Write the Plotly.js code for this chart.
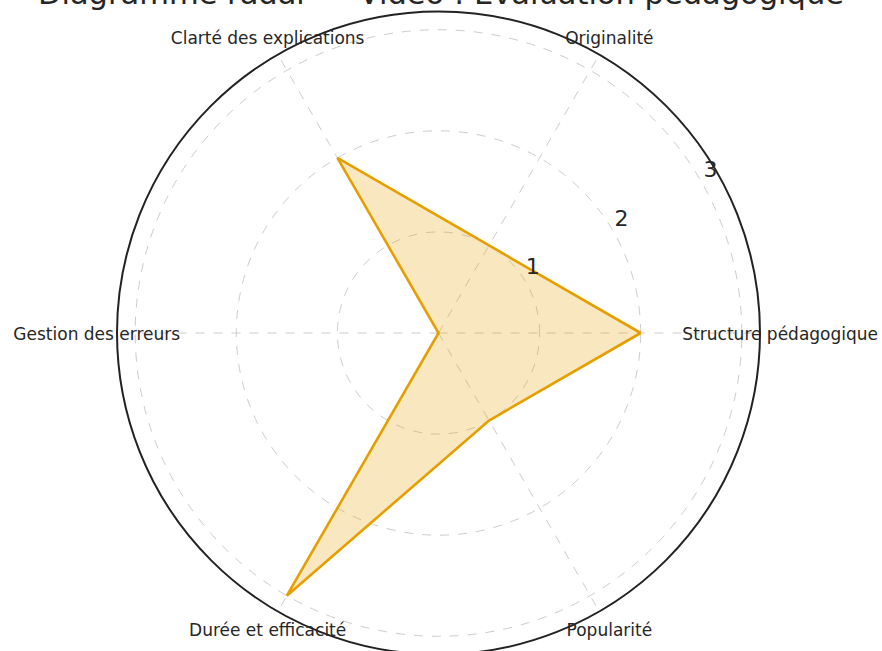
<!DOCTYPE html>
<html>
<head>
<meta charset="utf-8">
<script src="https://cdn.plot.ly/plotly-3.0.1.min.js"></script>
<style>
html, body { margin: 0; padding: 0; overflow: hidden; background: #fff; width: 882px; height: 651px; }
#chart { position: absolute; left: 0; top: -50px; width: 882px; height: 760px; }
</style>
</head>
<body>
<div id="chart"></div>
<script>
// Data
const categories = ["Structure pédagogique", "Originalité", "Clarté des explications", "Gestion des erreurs", "Durée et efficacité", "Popularité"];
const scores = [2, 1, 2, 0, 3, 1];
const radialTicks = [1, 2, 3];
const radialTickText = ["1", "2", "3"];
const chartTitle = "Diagramme radar — Vidéo : Évaluation pédagogique";

const R_MAX = 3.18;
const LABEL_R = 3.38;
const TICKLABEL_SHIFT = 0.225;
const OFFSET = 50;            // div shifted up by this many px
const W = 882, H = 760;
const cx = 438.5, cy = 333 + OFFSET, rad = 321.5;
const pxPerUnit = rad / R_MAX;
const radLab = LABEL_R * pxPerUnit;
const LABEL_DY = 3;

const closedCats = categories.concat([categories[0]]);
const closedScores = scores.concat([scores[0]]);

const traces = [
  {
    type: "scatterpolar",
    subplot: "polar",
    r: closedScores,
    theta: closedCats,
    mode: "lines",
    fill: "toself",
    fillcolor: "rgba(230,159,0,0.25)",
    line: { color: "#E69F00", width: 2.6 },
    hoverinfo: "skip",
    showlegend: false
  },
  {
    type: "scatterpolar",
    subplot: "polar2",
    r: categories.map(() => LABEL_R),
    theta: categories,
    mode: "text",
    text: categories,
    textposition: "middle center",
    textfont: { family: "DejaVu Sans", size: 17, color: "#262626" },
    cliponaxis: false,
    hoverinfo: "skip",
    showlegend: false
  }
];

function dom(r, dy) {
  const c = cy + (dy || 0);
  return {
    x: [(cx - r) / W, (cx + r) / W],
    y: [(H - c - r) / H, (H - c + r) / H]
  };
}

const layout = {
  width: W,
  height: H,
  margin: { l: 0, r: 0, t: 0, b: 0 },
  paper_bgcolor: "#ffffff",
  showlegend: false,
  title: {
    text: chartTitle,
    font: { family: "DejaVu Sans", size: 30.5, color: "#262626" },
    x: 0.5,
    xanchor: "center",
    xref: "container",
    yref: "container",
    y: 1 - (OFFSET + 4) / H,
    yanchor: "bottom"
  },
  polar: {
    domain: dom(rad, 0),
    bgcolor: "#ffffff",
    radialaxis: {
      range: [0, R_MAX],
      tickvals: radialTicks,
      showticklabels: false,
      showline: false,
      ticks: "",
      gridcolor: "#cccccc",
      griddash: "dash",
      gridwidth: 1
    },
    angularaxis: {
      type: "category",
      categoryarray: categories,
      rotation: 0,
      direction: "counterclockwise",
      showticklabels: false,
      ticks: "",
      showline: true,
      linecolor: "#222222",
      linewidth: 2,
      gridcolor: "#cccccc",
      griddash: "dash",
      gridwidth: 1
    }
  },
  polar2: {
    domain: dom(radLab, LABEL_DY),
    bgcolor: "rgba(0,0,0,0)",
    radialaxis: {
      range: [0, LABEL_R],
      tickvals: radialTicks.map(v => v + TICKLABEL_SHIFT),
      ticktext: radialTickText,
      angle: 28.5,
      tickangle: 28.5,
      side: "counterclockwise",
      showgrid: false,
      showline: false,
      ticks: "",
      tickfont: { family: "DejaVu Sans", size: 22, color: "#262626" }
    },
    angularaxis: {
      type: "category",
      categoryarray: categories,
      rotation: 0,
      direction: "counterclockwise",
      showticklabels: false,
      showgrid: false,
      showline: false,
      ticks: ""
    }
  }
};

Plotly.newPlot("chart", traces, layout, { staticPlot: true, displayModeBar: false });
</script>
</body>
</html>
